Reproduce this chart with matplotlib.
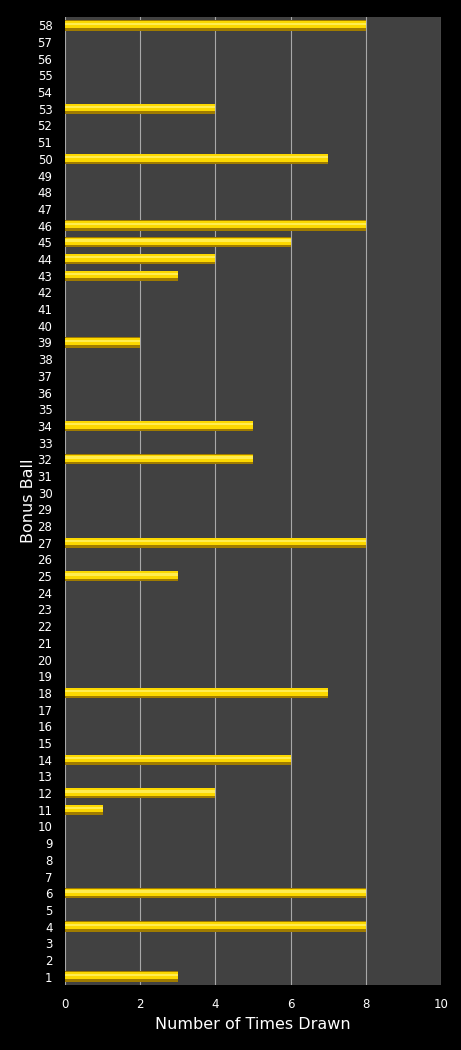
import matplotlib.pyplot as plt
import numpy as np

# bonus ball numbers and how often each was drawn
balls = list(range(1, 59))
drawn = {1: 3, 4: 8, 6: 8, 11: 1, 12: 4, 14: 6, 18: 7, 25: 3, 27: 8,
         32: 5, 34: 5, 39: 2, 43: 3, 44: 4, 45: 6, 46: 8, 50: 7, 53: 4, 58: 8}
counts = [drawn.get(b, 0) for b in balls]
x_ticks = [0, 2, 4, 6, 8, 10]

fig = plt.figure(figsize=(4.61, 10.5), dpi=100, facecolor='black')
ax = fig.add_axes([65 / 461, 1 - 985 / 1050, 376 / 461, 968 / 1050])
ax.set_facecolor('#414141')

# 3d-ish bars: dark gold base, bright yellow body, pale highlight stripe
ax.barh(balls, counts, height=0.62, color='#a07c00', zorder=3)
ax.barh(np.array(balls) + 0.06, counts, height=0.44, color='#fcd800', zorder=4)
ax.barh(np.array(balls) + 0.1, counts, height=0.14, color='#ffec50', zorder=5)

ax.set_xlim(0, 10)
ax.set_ylim(0.5, 58.5)
ax.set_xticks(x_ticks)
ax.set_yticks(balls)
ax.set_yticklabels([str(b) for b in balls])
ax.grid(axis='x', color='#a8a8a8', linewidth=0.8, zorder=1)
ax.set_axisbelow(True)

for s in ax.spines.values():
    s.set_visible(False)
ax.tick_params(colors='white', labelsize=8.5, length=0, pad=9)

ax.set_xlabel('Number of Times Drawn', color='white', fontsize=11.5, labelpad=5)
ax.set_ylabel('Bonus Ball', color='white', fontsize=11.5, labelpad=1)

fig.savefig('out.png', dpi=100, facecolor='black')
